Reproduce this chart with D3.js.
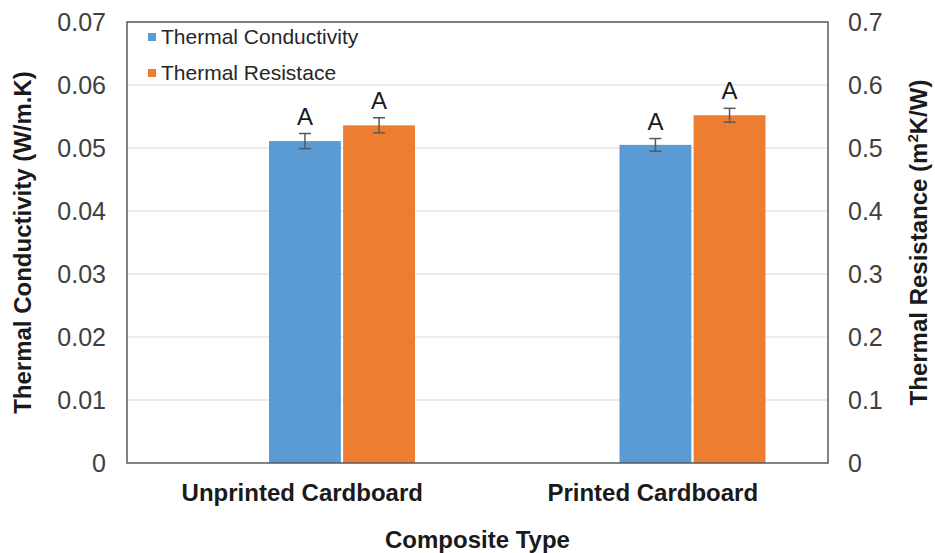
<!DOCTYPE html>
<html>
<head>
<meta charset="utf-8">
<script src="https://cdn.jsdelivr.net/npm/d3@7"></script>
<style>
  body { margin: 0; background: #fff; }
  text { font-family: "Liberation Sans", Arial, sans-serif; }
</style>
</head>
<body>
<svg id="chart"></svg>
<script>
// data
var categories = ["Unprinted Cardboard", "Printed Cardboard"];
var series = ["Thermal Conductivity", "Thermal Resistace"];
var conductivity = [0.0511, 0.0505];      // W/m.K, left axis
var conductivityErr = [0.0012, 0.0010];
var resistance = [0.536, 0.552];          // m2K/W, right axis
var resistanceErr = [0.012, 0.011];
var letters = ["A", "A"];
var leftTicks = [0, 0.01, 0.02, 0.03, 0.04, 0.05, 0.06, 0.07];
var rightTicks = [0, 0.1, 0.2, 0.3, 0.4, 0.5, 0.6, 0.7];
var colors = ["#5b9bd5", "#ed7d31"];

var W = 935, H = 553;
var margin = {top: 22, right: 107, bottom: 90, left: 127},
    width = W - margin.left - margin.right,
    height = H - margin.top - margin.bottom;

var svg = d3.select("#chart")
    .attr("width", W)
    .attr("height", H)
    .append("g")
    .attr("transform", "translate(" + margin.left + "," + margin.top + ")");

var x = d3.scaleBand().domain(categories).range([0, width]);
// bars sit right of the category centre, as in the original
var x1 = d3.scaleBand().domain(series).range([142, 288]).paddingInner(0.03);

var yL = d3.scaleLinear().domain([0, 0.07]).range([height, 0]);
var yR = d3.scaleLinear().domain([0, 0.7]).range([height, 0]);

// gridlines
svg.append("g")
    .selectAll("line")
    .data(leftTicks.slice(1))
    .enter()
    .append("line")
    .attr("x1", 0).attr("x2", width)
    .attr("y1", function(d) { return yL(d); })
    .attr("y2", function(d) { return yL(d); })
    .attr("stroke", "#d9d9d9")
    .attr("stroke-width", 1);

// rows for drawing
var rows = [];
categories.forEach(function(c, i) {
    rows.push({cat: c, s: series[0], y: yL(conductivity[i]), lo: yL(conductivity[i] - conductivityErr[i]), hi: yL(conductivity[i] + conductivityErr[i]), color: colors[0], letter: letters[i]});
    rows.push({cat: c, s: series[1], y: yR(resistance[i]), lo: yR(resistance[i] - resistanceErr[i]), hi: yR(resistance[i] + resistanceErr[i]), color: colors[1], letter: letters[i]});
});

svg.selectAll(".bar")
    .data(rows)
    .enter()
    .append("rect")
    .attr("class", "bar")
    .attr("x", function(d) { return x(d.cat) + x1(d.s); })
    .attr("y", function(d) { return d.y; })
    .attr("width", x1.bandwidth())
    .attr("height", function(d) { return height - d.y; })
    .attr("fill", function(d) { return d.color; });

// error bars
var eb = svg.selectAll(".err")
    .data(rows)
    .enter()
    .append("g")
    .attr("class", "err")
    .attr("stroke", "#595959")
    .attr("stroke-width", 1.5);
eb.append("line")
    .attr("x1", function(d) { return x(d.cat) + x1(d.s) + x1.bandwidth() / 2; })
    .attr("x2", function(d) { return x(d.cat) + x1(d.s) + x1.bandwidth() / 2; })
    .attr("y1", function(d) { return d.lo; })
    .attr("y2", function(d) { return d.hi; });
eb.append("line")
    .attr("x1", function(d) { return x(d.cat) + x1(d.s) + x1.bandwidth() / 2 - 6; })
    .attr("x2", function(d) { return x(d.cat) + x1(d.s) + x1.bandwidth() / 2 + 6; })
    .attr("y1", function(d) { return d.lo; })
    .attr("y2", function(d) { return d.lo; });
eb.append("line")
    .attr("x1", function(d) { return x(d.cat) + x1(d.s) + x1.bandwidth() / 2 - 6; })
    .attr("x2", function(d) { return x(d.cat) + x1(d.s) + x1.bandwidth() / 2 + 6; })
    .attr("y1", function(d) { return d.hi; })
    .attr("y2", function(d) { return d.hi; });

// letters above error bars
svg.selectAll(".letter")
    .data(rows)
    .enter()
    .append("text")
    .attr("class", "letter")
    .attr("x", function(d) { return x(d.cat) + x1(d.s) + x1.bandwidth() / 2; })
    .attr("y", function(d) { return d.hi - 9; })
    .attr("text-anchor", "middle")
    .attr("font-size", "24px")
    .attr("fill", "#1a1a1a")
    .text(function(d) { return d.letter; });

// axes
var axL = svg.append("g")
    .call(d3.axisLeft(yL).tickValues(leftTicks).tickSize(0).tickPadding(21).tickFormat(function(d) { return d === 0 ? "0" : d3.format(".2f")(d); }));
axL.select(".domain").remove();
axL.selectAll("text").attr("font-size", "25px").attr("fill", "#404040").attr("font-family", "Liberation Sans, Arial, sans-serif");

var axR = svg.append("g")
    .attr("transform", "translate(" + width + ",0)")
    .call(d3.axisRight(yR).tickValues(rightTicks).tickSize(0).tickPadding(20).tickFormat(function(d) { return d === 0 ? "0" : d3.format(".1f")(d); }));
axR.select(".domain").remove();
axR.selectAll("text").attr("font-size", "25px").attr("fill", "#404040").attr("font-family", "Liberation Sans, Arial, sans-serif");

var axB = svg.append("g")
    .attr("transform", "translate(0," + height + ")")
    .call(d3.axisBottom(x).tickSize(0).tickPadding(21));
axB.select(".domain").remove();
axB.selectAll("text").attr("font-size", "24px").attr("font-weight", "bold").attr("fill", "#1a1a1a").attr("font-family", "Liberation Sans, Arial, sans-serif");

// plot frame
svg.append("rect")
    .attr("x", 0).attr("y", 0)
    .attr("width", width).attr("height", height)
    .attr("fill", "none")
    .attr("stroke", "#595959")
    .attr("stroke-width", 1.5);

// legend
var legend = svg.selectAll(".legend")
    .data(series)
    .enter()
    .append("g")
    .attr("class", "legend")
    .attr("transform", function(d, i) { return "translate(21," + (15 + i * 36) + ")"; });
legend.append("rect")
    .attr("x", 0).attr("y", -4)
    .attr("width", 8).attr("height", 8)
    .attr("fill", function(d, i) { return colors[i]; });
legend.append("text")
    .attr("x", 13).attr("y", 7)
    .attr("font-size", "21px")
    .attr("fill", "#262626")
    .text(function(d) { return d; });

// axis titles
svg.append("text")
    .attr("transform", "rotate(-90)")
    .attr("x", -height / 2)
    .attr("y", -margin.left + 31)
    .attr("text-anchor", "middle")
    .attr("font-weight", "bold")
    .attr("font-size", "24px")
    .attr("fill", "#1a1a1a")
    .text("Thermal Conductivity (W/m.K)");

var rt = svg.append("text")
    .attr("transform", "rotate(-90)")
    .attr("x", -height / 2)
    .attr("y", width + 99)
    .attr("text-anchor", "middle")
    .attr("font-weight", "bold")
    .attr("font-size", "24px")
    .attr("fill", "#1a1a1a");
rt.append("tspan").text("Thermal Resistance (m");
rt.append("tspan").attr("font-size", "15px").attr("dy", "-9").text("2");
rt.append("tspan").attr("dy", "9").text("K/W)");

svg.append("text")
    .attr("x", width / 2)
    .attr("y", height + 85)
    .attr("text-anchor", "middle")
    .attr("font-weight", "bold")
    .attr("font-size", "24px")
    .attr("fill", "#1a1a1a")
    .text("Composite Type");
</script>
</body>
</html>
